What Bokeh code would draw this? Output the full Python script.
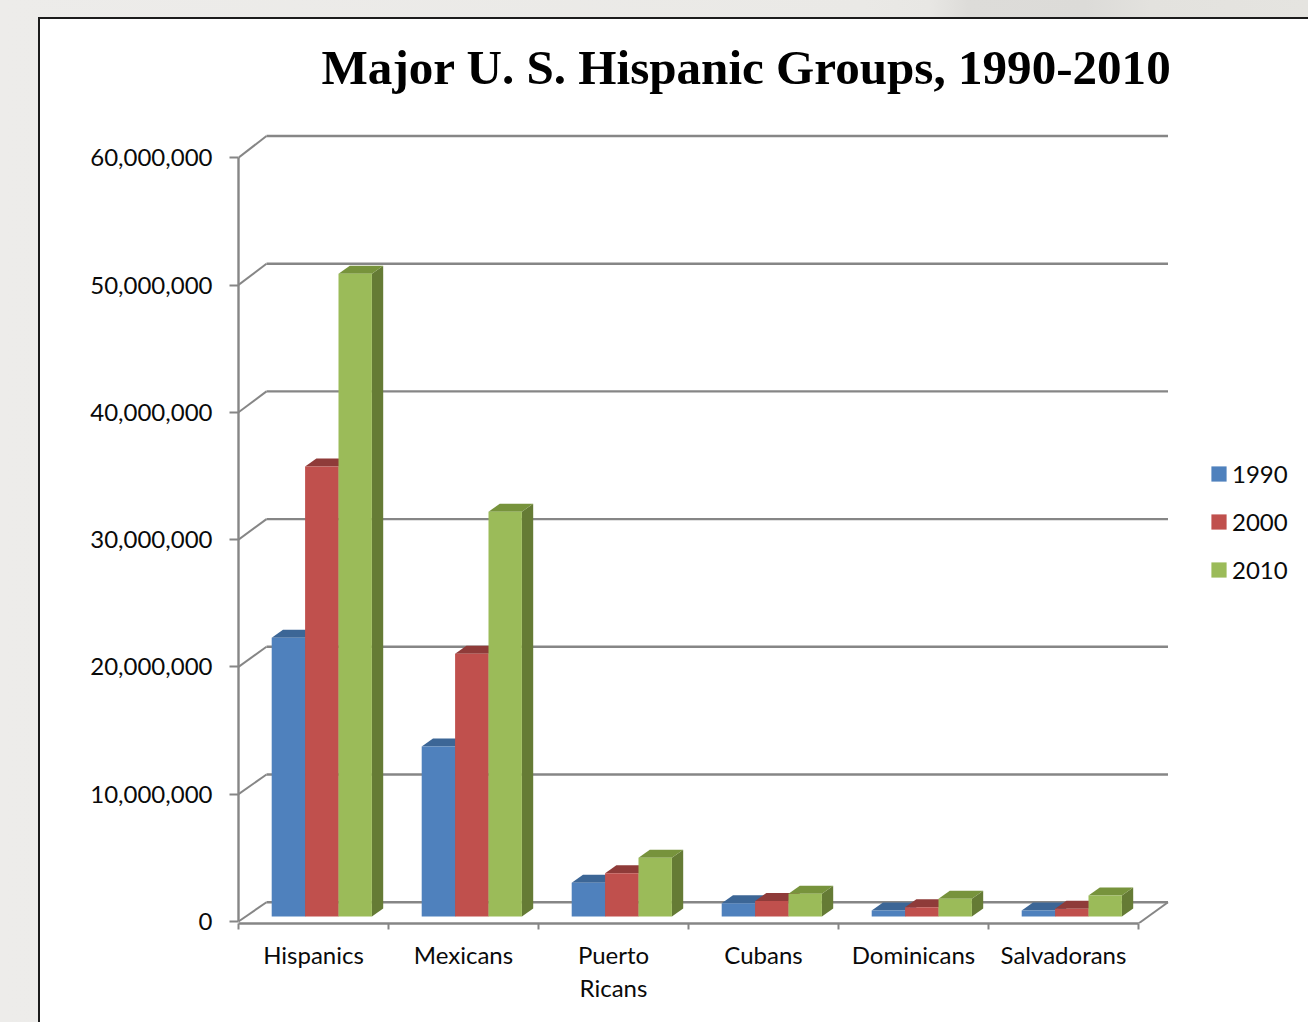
from bokeh.embed import file_html
from bokeh.models import (FixedTicker, Legend, LegendItem,
                          NumeralTickFormatter, Range1d, Title)
from bokeh.plotting import figure
from bokeh.resources import INLINE

groups = ["Hispanics", "Mexicans", "Puerto\nRicans", "Cubans", "Dominicans", "Salvadorans"]
years = ["1990", "2000", "2010"]
pop_1990 = [21900000, 13350000, 2650000, 1050000, 470000, 480000]
pop_2000 = [35350000, 20650000, 3400000, 1220000, 730000, 600000]
pop_2010 = [50500000, 31800000, 4620000, 1780000, 1400000, 1650000]
y_ticks = [0, 10000000, 20000000, 30000000, 40000000, 50000000, 60000000]

front_colors = ["#4F81BD", "#C0504D", "#9BBB59"]
top_colors = ["#3C6696", "#8F3B39", "#77933C"]
side_colors = ["#3A5F8C", "#8A3735", "#657B35"]
GRID = "#868686"
FONT = "Lato"
FONT_SIZE = "24px"
INK = "#0a0a0a"

# One axis unit on x is a category slot; y is in people.
PX_PER_SLOT = 150.0
PX_PER_PERSON = 127.3 / 1e7


def dx(px):
    return px / PX_PER_SLOT


def dy(px):
    return px / PX_PER_PERSON


p = figure(width=1308, height=1022, output_backend="svg", toolbar_location=None,
           x_range=Range1d(0, dx(1308 - 238)),
           y_range=Range1d(-dy(2), dy(921 - 100)),
           min_border_left=238, min_border_right=0, min_border_top=100, min_border_bottom=99,
           border_fill_color=None, background_fill_color=None, outline_line_color=None)

# Grey page behind a white panel with a dark rule on its top and left edges.
p.styles = {
    "background":
        "linear-gradient(#fff,#fff) 39.7px 19.3px/100% 100% no-repeat,"
        "linear-gradient(#1c1c1c,#1c1c1c) 37.7px 17.3px/100% 100% no-repeat,"
        "linear-gradient(90deg,#edecea 0%,#eae9e6 66%,#e8e7e4 71%,"
        "#dddcd9 74%,#dcdbd8 83%,#e3e2de 88%,#e5e4e0 100%)"
}
p.grid.visible = False

title = Title(text="Major U. S. Hispanic Groups, 1990-2010", align="left", offset=83,
              text_font="Liberation Serif", text_font_style="bold", text_font_size="49.1px",
              text_color="black", standoff=12)
p.add_layout(title, "above")

# Back wall and floor of the 3-D box.
WALL_X = dx(28)
WALL_RIGHT = 6 + dx(29.5)
wall_y = [t * 127.7 / 127.3 + dy(19.3) for t in y_ticks]
p.segment(x0=[WALL_X] * 7, y0=wall_y, x1=[WALL_RIGHT] * 7, y1=wall_y,
          line_color=GRID, line_width=2.4)
p.segment(x0=[0] * 7, y0=y_ticks, x1=[WALL_X] * 7, y1=wall_y, line_color=GRID, line_width=2)
p.segment(x0=[6], y0=[-dy(2)], x1=[WALL_RIGHT], y1=[wall_y[0]], line_color=GRID, line_width=2)

# Bars: each one is a front face, a top face and a right-hand face.
BAR_START = dx(33.2)
BAR_WIDTH = dx(33.4)
BAR_BASE = dy(5)
DEPTH_X = dx(11.3)
DEPTH_Y = dy(8)

legend_items = []
for s, (series, label) in enumerate(zip([pop_1990, pop_2000, pop_2010], years)):
    left = [i + BAR_START + s * BAR_WIDTH for i in range(len(groups))]
    right = [x + BAR_WIDTH for x in left]
    top = [BAR_BASE + v for v in series]
    side_xs = [[r, r + DEPTH_X, r + DEPTH_X, r] for r in right]
    side_ys = [[BAR_BASE, BAR_BASE + DEPTH_Y, t + DEPTH_Y, t] for t in top]
    top_xs = [[l, l + DEPTH_X, r + DEPTH_X, r] for l, r in zip(left, right)]
    top_ys = [[t, t + DEPTH_Y, t + DEPTH_Y, t] for t in top]
    p.patches(side_xs, side_ys, fill_color=side_colors[s], line_color=None)
    p.patches(top_xs, top_ys, fill_color=top_colors[s], line_color=None)
    face = p.quad(left=left, right=right, bottom=[BAR_BASE] * len(groups), top=top,
                  fill_color=front_colors[s], line_color=None)
    legend_items.append(LegendItem(label=label, renderers=[face]))

# Value axis sits on the frame's left edge.
yaxis = p.yaxis[0]
yaxis.ticker = FixedTicker(ticks=y_ticks)
yaxis.formatter = NumeralTickFormatter(format="0,0")
yaxis.bounds = (0, 60000000)
yaxis.axis_line_color = GRID
yaxis.axis_line_width = 2.4
yaxis.major_tick_line_color = GRID
yaxis.major_tick_line_width = 2
yaxis.major_tick_out = 9
yaxis.major_tick_in = 0
yaxis.minor_tick_line_color = None
yaxis.major_label_standoff = 17
yaxis.major_label_text_font = FONT
yaxis.major_label_text_font_size = FONT_SIZE
yaxis.major_label_text_color = INK

# Category axis: boundary marks are minor ticks, names sit on unmarked major ticks.
xaxis = p.xaxis[0]
centers = [i + 0.5 for i in range(len(groups))]
xaxis.ticker = FixedTicker(ticks=centers, minor_ticks=list(range(len(groups) + 1)))
xaxis.major_label_overrides = {c: g for c, g in zip(centers, groups)}
xaxis.bounds = (0, 6)
xaxis.axis_line_color = GRID
xaxis.axis_line_width = 2.4
xaxis.major_tick_line_color = None
xaxis.major_tick_out = 0
xaxis.major_tick_in = 0
xaxis.minor_tick_line_color = GRID
xaxis.minor_tick_line_width = 2
xaxis.minor_tick_out = 6
xaxis.minor_tick_in = 0
xaxis.major_label_standoff = 10
xaxis.major_label_text_font = FONT
xaxis.major_label_text_font_size = FONT_SIZE
xaxis.major_label_text_color = INK
xaxis.major_label_text_line_height = 1.15

legend = Legend(items=legend_items, location=(1209 - 238, 923 - 584), orientation="vertical",
                margin=0, padding=0, spacing=19, glyph_width=19, glyph_height=19,
                label_standoff=4, label_height=29,
                label_text_font=FONT, label_text_font_size=FONT_SIZE, label_text_color=INK,
                background_fill_alpha=0, border_line_color=None)
p.add_layout(legend, "center")

open("out.html", "w").write(file_html(p, INLINE))
